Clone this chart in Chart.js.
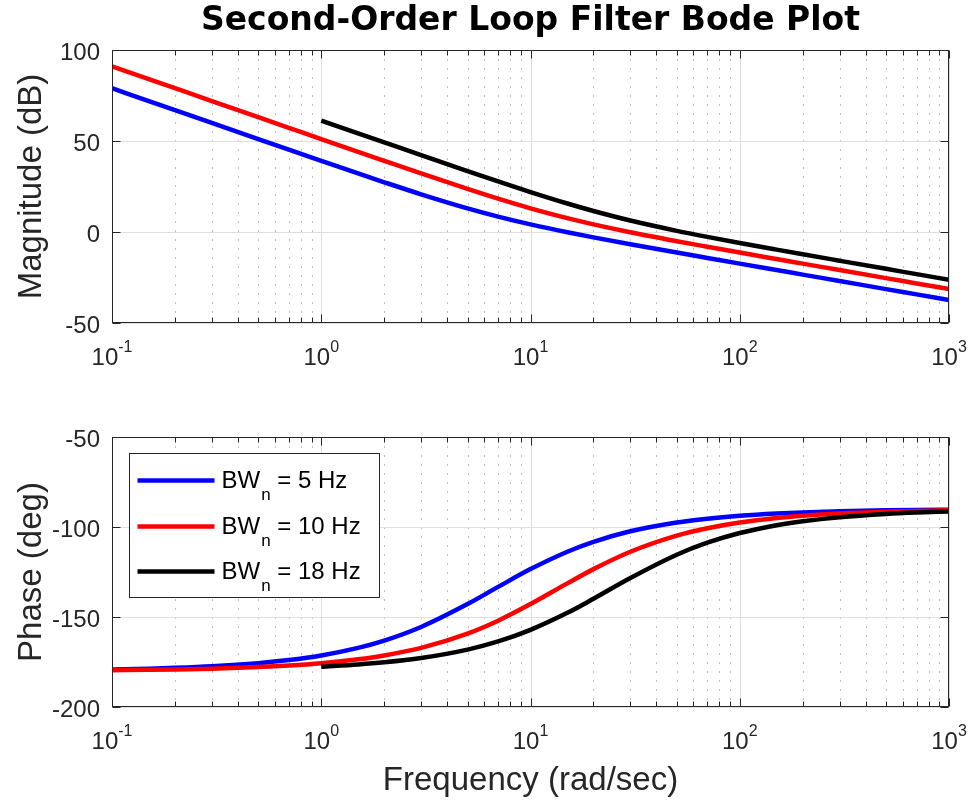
<!DOCTYPE html>
<html>
<head>
<meta charset="utf-8">
<script src="https://cdn.jsdelivr.net/npm/chart.js@4.4.1/dist/chart.umd.min.js"></script>
<style>
  html, body { margin: 0; padding: 0; background: #fff; }
  #wrap { position: relative; width: 973px; height: 805px; }
  canvas { position: absolute; left: 0; }
</style>
</head>
<body>
<div id="wrap">
  <canvas id="magChart" width="973" height="400" style="top:0"></canvas>
  <canvas id="phaseChart" width="973" height="405" style="top:400px"></canvas>
</div>
<script>
// --- data (rad/sec, dB, deg) ---
const freq = [0.1, 0.15, 0.2, 0.3, 0.5, 0.7, 1, 1.5, 2, 3, 5, 7, 10, 15, 20, 30, 50, 70, 100, 150, 200, 300, 500, 700, 1000];
const freqBW18 = [1, 1.5, 2, 3, 5, 7, 10, 15, 20, 30, 50, 70, 100, 150, 200, 300, 500, 700, 1000];

const magBW5 = [78.99, 71.95, 66.95, 59.91, 51.05, 45.23, 39.09, 32.16, 27.33, 20.72, 13.00, 8.46, 4.17, -0.15, -2.97, -6.73, -11.30, -14.25, -17.38, -20.90, -23.41, -26.93, -31.37, -34.29, -37.39];
const magBW10 = [91.03, 83.99, 78.99, 71.95, 63.07, 57.24, 51.05, 44.04, 39.09, 32.17, 23.65, 18.30, 13.00, 7.59, 4.18, -0.15, -5.06, -8.12, -11.30, -14.86, -17.37, -20.91, -25.35, -28.27, -31.37];
const magBW18 = [61.24, 54.21, 49.23, 42.22, 33.47, 27.80, 21.95, 15.66, 11.53, 6.30, 0.64, -2.70, -6.03, -9.68, -12.23, -15.78, -20.24, -23.16, -26.27];

const phaseBW5 = [-179.13, -178.70, -178.26, -177.39, -175.66, -173.94, -171.37, -167.18, -163.12, -155.53, -142.82, -133.28, -123.40, -113.73, -108.24, -102.39, -97.51, -95.38, -93.77, -92.52, -91.89, -91.26, -90.76, -90.54, -90.38];
const phaseBW10 = [-179.57, -179.35, -179.13, -178.70, -177.83, -176.96, -175.66, -173.51, -171.37, -167.18, -159.23, -152.04, -142.82, -131.32, -123.40, -113.73, -104.77, -100.67, -97.51, -95.02, -93.77, -92.52, -91.51, -91.08, -90.76];
const phaseBW18 = [-177.59, -176.38, -175.18, -172.79, -168.10, -163.56, -157.14, -147.70, -139.87, -128.34, -115.38, -108.72, -103.35, -98.99, -96.76, -94.52, -92.72, -91.94, -91.36];

const xDecades = [0.1, 1, 10, 100, 1000];
const xExponents = ['-1', '0', '1', '2', '3'];
const magTicks = [-50, 0, 50, 100];
const phaseTicks = [-200, -150, -100, -50];
const bwLabels = ['5 Hz', '10 Hz', '18 Hz'];

// --- styles ---
const FONT = '"Liberation Sans", Arial, Helvetica, sans-serif';
const TITLE_FONT = '"DejaVu Sans", "Liberation Sans", sans-serif';
const AXIS_COLOR = '#262626';
const SERIES_COLORS = ['#0000ff', '#ff0000', '#000000'];

const toXY = (xs, ys) => xs.map((x, i) => ({ x: x, y: ys[i] }));

// minor log ticks 2..9 of each decade
const minorTicks = [];
xDecades.slice(0, -1).forEach(d => { for (let k = 2; k <= 9; k++) minorTicks.push(d * k); });

function makeDatasets(sets) {
    return sets.map((pts, i) => ({
        data: pts,
        borderColor: SERIES_COLORS[i],
        borderWidth: 4.5,
        pointRadius: 0,
        fill: false,
        cubicInterpolationMode: 'monotone',
        order: 3 - i
    }));
}

// grid, box, inward ticks and 10^n labels, MATLAB style
const framePlugin = {
    id: 'frame',
    beforeDatasetsDraw(chart) {
        const { ctx, chartArea: a, scales: { x, y } } = chart;
        ctx.save();
        ctx.lineWidth = 1;
        // minor grid (dotted)
        ctx.strokeStyle = '#c2c2c2';
        ctx.setLineDash([2, 7]);
        minorTicks.forEach(v => {
            const px = Math.round(x.getPixelForValue(v)) + 0.5;
            ctx.beginPath(); ctx.moveTo(px, a.top); ctx.lineTo(px, a.bottom); ctx.stroke();
        });
        // major grid
        ctx.setLineDash([]);
        ctx.strokeStyle = '#dfdfdf';
        xDecades.forEach(v => {
            const px = Math.round(x.getPixelForValue(v)) + 0.5;
            ctx.beginPath(); ctx.moveTo(px, a.top); ctx.lineTo(px, a.bottom); ctx.stroke();
        });
        y.ticks.forEach(t => {
            const py = Math.round(y.getPixelForValue(t.value)) + 0.5;
            ctx.beginPath(); ctx.moveTo(a.left, py); ctx.lineTo(a.right, py); ctx.stroke();
        });
        ctx.restore();
    },
    afterDatasetsDraw(chart) {
        const { ctx, chartArea: a, scales: { x, y } } = chart;
        ctx.save();
        ctx.strokeStyle = AXIS_COLOR;
        ctx.lineWidth = 1;
        const L = Math.round(a.left) + 0.5, R = Math.round(a.right) - 0.5;
        const T = Math.round(a.top) + 0.5, B = Math.round(a.bottom) - 0.5;
        ctx.strokeRect(L, T, R - L, B - T);
        ctx.beginPath();
        const tickX = (v, len) => {
            const px = Math.round(x.getPixelForValue(v)) + 0.5;
            ctx.moveTo(px, B); ctx.lineTo(px, B - len);
            ctx.moveTo(px, T); ctx.lineTo(px, T + len);
        };
        xDecades.forEach(v => tickX(v, 8));
        minorTicks.forEach(v => tickX(v, 5));
        y.ticks.forEach(t => {
            const py = Math.round(y.getPixelForValue(t.value)) + 0.5;
            ctx.moveTo(L, py); ctx.lineTo(L + 8, py);
            ctx.moveTo(R, py); ctx.lineTo(R - 8, py);
        });
        ctx.stroke();

        // x tick labels: 10 with superscript exponent
        ctx.fillStyle = AXIS_COLOR;
        ctx.textBaseline = 'alphabetic';
        ctx.textAlign = 'left';
        xDecades.forEach((v, i) => {
            const px = x.getPixelForValue(v);
            ctx.font = '24px ' + FONT;
            const wBase = ctx.measureText('10').width;
            ctx.font = '16px ' + FONT;
            const wExp = ctx.measureText(xExponents[i]).width;
            const x0 = px - (wBase + wExp) / 2;
            ctx.font = '24px ' + FONT;
            ctx.fillText('10', x0, a.bottom + 42);
            ctx.font = '16px ' + FONT;
            ctx.fillText(xExponents[i], x0 + wBase, a.bottom + 29);
        });
        ctx.restore();
    }
};

// legend with subscript BW_n
const legendPlugin = {
    id: 'bwLegend',
    afterDraw(chart) {
        const { ctx, chartArea: a } = chart;
        const left = Math.round(a.left) + 17.5, top = Math.round(a.top) + 16.5;
        ctx.save();
        ctx.fillStyle = '#ffffff';
        ctx.fillRect(left, top, 250, 144);
        ctx.strokeStyle = AXIS_COLOR;
        ctx.lineWidth = 1;
        ctx.strokeRect(left, top, 250, 144);
        const rowY = [27, 73, 118];
        bwLabels.forEach((lab, i) => {
            const ly = top + rowY[i];
            ctx.strokeStyle = SERIES_COLORS[i];
            ctx.lineWidth = 4.5;
            ctx.beginPath(); ctx.moveTo(left + 8, ly); ctx.lineTo(left + 85, ly); ctx.stroke();
            ctx.fillStyle = '#000000';
            ctx.textBaseline = 'alphabetic';
            ctx.font = '24px ' + FONT;
            let tx = left + 92;
            ctx.fillText('BW', tx, ly + 7);
            tx += ctx.measureText('BW').width + 1;
            ctx.font = '17px ' + FONT;
            ctx.fillText('n', tx, ly + 19);
            tx += ctx.measureText('n').width;
            ctx.font = '24px ' + FONT;
            ctx.fillText(' = ' + lab, tx, ly + 7);
        });
        ctx.restore();
    }
};

function axisOptions(yTicks, yTitle, xHeight, xTitle) {
    return {
        x: {
            type: 'logarithmic',
            min: 0.1,
            max: 1000,
            afterBuildTicks: s => { s.ticks = xDecades.map(v => ({ value: v })); },
            afterFit: s => { s.height = xHeight; },
            ticks: { display: false },
            grid: { display: false },
            border: { display: false },
            title: xTitle ? {
                display: true,
                text: xTitle,
                color: AXIS_COLOR,
                font: { family: FONT, size: 33 },
                padding: { top: 0, bottom: 4.6 }
            } : { display: false }
        },
        y: {
            type: 'linear',
            min: yTicks[0],
            max: yTicks[yTicks.length - 1],
            afterBuildTicks: s => { s.ticks = yTicks.map(v => ({ value: v })); },
            afterFit: s => { s.width = 112; },
            ticks: {
                color: AXIS_COLOR,
                font: { family: FONT, size: 24 },
                padding: 12,
                labelOffset: 3
            },
            grid: { display: false, drawTicks: false },
            border: { display: false },
            title: {
                display: true,
                text: yTitle,
                color: AXIS_COLOR,
                font: { family: FONT, size: 33 },
                padding: { top: 12, bottom: 0 }
            }
        }
    };
}

new Chart(document.getElementById('magChart'), {
    type: 'line',
    data: {
        datasets: makeDatasets([
            toXY(freq, magBW5),
            toXY(freq, magBW10),
            toXY(freqBW18, magBW18)
        ])
    },
    options: {
        responsive: false,
        animation: false,
        layout: { padding: { left: 0, right: 24, top: 0, bottom: 0 } },
        plugins: {
            legend: { display: false },
            tooltip: { enabled: false },
            title: {
                display: true,
                fullSize: false,
                text: 'Second-Order Loop Filter Bode Plot',
                color: '#000000',
                font: { family: TITLE_FONT, size: 33, weight: 'bold' },
                padding: { top: 1.5, bottom: 8.9 }
            }
        },
        scales: axisOptions(magTicks, 'Magnitude (dB)', 77, null)
    },
    plugins: [framePlugin]
});

new Chart(document.getElementById('phaseChart'), {
    type: 'line',
    data: {
        datasets: makeDatasets([
            toXY(freq, phaseBW5),
            toXY(freq, phaseBW10),
            toXY(freqBW18, phaseBW18)
        ])
    },
    options: {
        responsive: false,
        animation: false,
        layout: { padding: { left: 0, right: 24, top: 37, bottom: 0 } },
        plugins: {
            legend: { display: false },
            tooltip: { enabled: false }
        },
        scales: axisOptions(phaseTicks, 'Phase (deg)', 98, 'Frequency (rad/sec)')
    },
    plugins: [framePlugin, legendPlugin]
});
</script>
</body>
</html>
